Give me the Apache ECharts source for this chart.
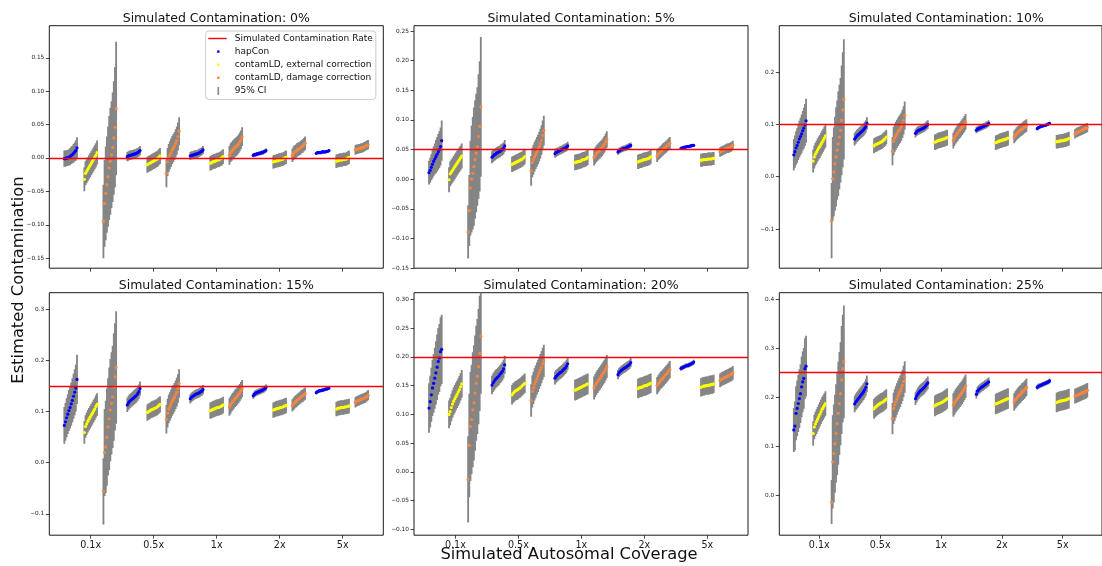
<!DOCTYPE html>
<html>
<head>
<meta charset="utf-8">
<script src="https://cdn.jsdelivr.net/npm/echarts@6/dist/echarts.min.js"></script>
<style>
html,body{margin:0;padding:0;background:#ffffff;}
#chart{width:1102px;height:566px;}
</style>
</head>
<body>
<div id="chart"></div>
<script>
// ---------------- DATA ----------------
const coverageLabels = ['0.1x', '0.5x', '1x', '2x', '5x'];
const methodNames = ['hapCon', 'contamLD, external correction', 'contamLD, damage correction'];
const contamRates = [0, 0.05, 0.10, 0.15, 0.20, 0.25];
const panelTitles = [
  'Simulated Contamination: 0%', 'Simulated Contamination: 5%', 'Simulated Contamination: 10%',
  'Simulated Contamination: 15%', 'Simulated Contamination: 20%', 'Simulated Contamination: 25%'
];
const yTicks = [
  [-0.15, -0.10, -0.05, 0, 0.05, 0.10, 0.15],
  [-0.15, -0.10, -0.05, 0, 0.05, 0.10, 0.15, 0.20, 0.25],
  [-0.1, 0, 0.1, 0.2],
  [-0.1, 0, 0.1, 0.2, 0.3],
  [-0.10, -0.05, 0, 0.05, 0.10, 0.15, 0.20, 0.25, 0.30],
  [0, 0.1, 0.2, 0.3, 0.4]
];
const yDecimals = [2, 2, 1, 1, 2, 1];
const yMin = [-0.165, -0.1503, -0.175, -0.1417, -0.110, -0.0816];
const yMax = [0.198, 0.259, 0.289, 0.3325, 0.3115, 0.4129];

// Estimates (per mille), sorted replicates; order per panel:
// [hapCon 0.1x, ext 0.1x, damage 0.1x, hapCon 0.5x, ext 0.5x, damage 0.5x, ... 5x]
// CI half-widths (per mille): a number (constant for the group) or one value per replicate.
const est0 = [
  [-1,-1,0,0,1,2,4,5,7,9,11,15],
  [-32,-23,-20,-17,-14,-11,-8,-5,-2,1,4,8],
  [-95,-68,-53,-40,-28,-15,-5,5,16,30,46,74],
  [2,3,4,4,5,5,6,6,7,8,9,11],
  [-10,-9,-8,-7,-6,-5,-4,-3,-2,-1,1,3],
  [-23,-6,0,4,8,12,15,18,22,26,32,40],
  [3,4,4,5,5,6,6,7,8,9,10,12],
  [-8,-7,-6,-5,-5,-4,-3,-3,-2,-1,0,2],
  [4,8,10,12,14,16,17,19,21,24,27,32],
  [4,5,5,6,6,7,7,8,8,9,10,11],
  [-6,-5,-5,-4,-4,-3,-3,-2,-2,-1,0,1],
  [4,7,9,10,12,13,14,15,17,18,20,22],
  [7,8,8,8,8,9,9,9,9,10,10,11],
  [-5,-4,-4,-3,-3,-3,-2,-2,-2,-1,0,1],
  [12,13,13,14,14,15,15,16,17,18,19,20]
];
const hw0 = [
  [12,12,12,12,12,13,13,13,14,14,15,16], 18,
  [55,65,70,72,75,78,80,80,82,85,90,100],
  7, 12, 21, 6, 11, 14, 3, 10, 10, 2, 10, 7
];
const est1 = [
  [11,15,20,25,30,34,38,42,46,50,55,65],
  [-1,9,12,15,18,21,24,27,30,33,36,39],
  [-89,-53,-15,0,10,21,33,44,55,72,89,122],
  [37,39,41,42,44,45,46,47,49,50,52,56],
  [25,26,27,28,29,30,31,32,33,34,36,38],
  [14,28,33,38,42,46,50,55,60,66,74,82],
  [43,45,46,47,48,49,50,51,52,53,54,56],
  [28,29,29,30,30,31,32,33,33,34,35,37],
  [37,40,43,45,47,49,51,53,56,59,63,67],
  [46,48,49,50,51,52,52,53,54,55,56,57],
  [29,30,31,31,32,33,33,34,34,35,36,38],
  [39,42,44,46,48,50,52,53,55,57,59,61],
  [52,53,53,54,54,55,55,55,56,56,57,57],
  [32,32,33,33,33,33,34,34,34,34,35,35],
  [46,47,48,49,50,51,52,52,53,54,55,57]
];
const hw1 = [
  [20,21,22,24,25,26,28,29,30,31,32,34], 21,
  [45,60,80,90,95,100,100,100,100,105,110,118],
  10, 13, 25, 7, 13, 14, 5, 12, 10, 2, 11, 8
];
const est2 = [
  [42,48,55,60,66,72,77,82,88,93,99,107],
  [30,38,43,47,51,55,58,62,66,70,74,78],
  [-84,-4,9,25,38,51,63,76,89,108,128,148],
  [72,75,78,80,82,84,86,88,90,93,96,102],
  [59,61,62,63,64,65,66,67,69,71,73,76],
  [49,68,74,78,82,86,89,92,96,101,108,117],
  [83,86,88,89,90,91,92,93,94,96,98,100],
  [66,67,68,69,70,70,71,72,72,73,74,75],
  [69,74,78,81,84,87,89,92,95,98,101,105],
  [89,91,92,93,94,95,96,97,98,99,100,102],
  [65,66,67,68,69,69,70,71,71,72,73,74],
  [76,79,82,84,86,88,90,91,93,95,96,98],
  [92,94,95,96,97,97,98,98,99,100,101,102],
  [67,67,68,68,69,69,69,70,70,71,72,73],
  [82,84,85,86,87,88,89,90,91,92,93,94]
];
const hw2 = [
  [30,31,32,33,34,35,36,37,38,39,40,42], 22,
  [72,80,85,90,95,95,100,100,100,105,110,115],
  12, 14, 27, 8, 15, 15, 6, 14, 12, 3, 13, 9
];
const est3 = [
  [73,80,88,95,102,108,115,122,130,138,146,163],
  [59,71,76,81,85,89,93,97,101,105,110,114],
  [-56,20,31,50,70,86,103,116,129,148,168,186],
  [113,117,120,122,124,126,128,130,132,135,139,145],
  [98,100,101,103,104,105,106,107,108,110,112,114],
  [85,97,105,110,115,120,124,128,133,138,145,155],
  [125,128,130,131,133,134,135,136,137,139,140,143],
  [102,103,104,105,106,107,108,108,109,110,111,113],
  [109,113,117,120,123,126,128,131,134,137,141,145],
  [131,134,136,137,138,139,140,141,142,143,145,147],
  [103,104,105,106,106,107,108,108,109,110,111,112],
  [112,115,118,120,122,124,126,128,130,131,133,135],
  [137,139,140,141,141,142,142,143,144,144,145,146],
  [105,106,107,107,108,108,108,109,109,110,110,111],
  [118,120,121,122,123,124,125,126,127,128,130,132]
];
const hw3 = [
  [36,37,38,39,40,41,42,43,44,45,46,48], 22,
  [65,85,90,95,95,100,100,100,100,105,105,110],
  14, 16, 28, 9, 16, 17, 6, 15, 12, 3, 14, 10
];
const est4 = [
  [111,122,134,146,154,163,172,182,192,198,209,213],
  [100,105,112,118,123,127,131,135,139,143,148,153],
  [-13,46,79,91,108,120,137,154,166,183,206,236],
  [151,155,158,161,163,165,167,170,172,175,179,186],
  [134,137,139,141,142,143,145,146,148,150,152,154],
  [124,140,146,152,157,162,167,172,177,182,188,193],
  [163,166,168,170,172,173,175,177,179,181,184,188],
  [142,143,144,145,146,147,148,149,150,151,152,153],
  [146,150,154,157,160,163,166,169,172,175,179,183],
  [169,173,175,177,178,180,181,182,184,185,187,190],
  [145,146,147,147,148,149,150,150,151,152,153,154],
  [150,153,156,159,161,163,165,168,170,172,175,178],
  [180,181,182,183,184,185,185,186,187,188,189,191],
  [147,148,149,149,150,150,150,151,151,152,152,153],
  [159,161,162,163,164,165,166,167,168,169,170,172]
];
const hw4 = [
  [43,45,47,49,51,53,55,57,58,59,60,60], 24,
  [75,90,95,95,100,100,100,100,100,100,100,100],
  16, 17, 28, 11, 18, 20, 8, 17, 15, 4, 16, 12
];
const est5 = [
  [133,141,167,177,187,197,207,221,231,238,258,263],
  [126,139,145,150,155,160,165,170,175,179,183,187],
  [-14,68,85,105,126,146,167,187,207,235,258,272],
  [186,190,193,196,199,202,205,208,211,215,220,227],
  [176,179,181,183,185,186,188,189,190,192,194,196],
  [156,177,184,190,196,202,207,212,218,224,232,241],
  [197,202,206,209,212,214,216,218,220,223,226,229],
  [182,184,185,186,187,188,189,190,192,193,195,197],
  [184,188,192,195,198,201,204,207,210,214,218,222],
  [206,212,215,217,219,221,222,224,226,227,229,231],
  [186,187,188,189,190,191,192,193,194,195,196,197],
  [190,194,197,200,203,205,207,210,212,214,217,220],
  [220,222,223,224,225,226,227,228,229,230,231,233],
  [189,190,191,192,192,193,193,194,194,195,196,197],
  [202,203,204,205,206,207,208,209,210,211,212,214]
];
const hw5 = [
  [45,50,55,57,58,60,60,62,62,62,62,62], 25,
  [45,95,100,100,100,105,105,105,105,110,110,115],
  17, 20, 32, 13, 21, 24, 9, 21, 18, 5, 20, 15
];

const estimates = [est0, est1, est2, est3, est4, est5];
const halfWidths = [hw0, hw1, hw2, hw3, hw4, hw5];

// ---------------- LAYOUT / STYLE ----------------
const GRID_LEFT = [49.3, 414, 779.3];
const GRID_TOP = [25.7, 292.7];
const GRID_W = 334, GRID_H = 242.5;
const X_MIN = -0.657, X_MAX = 4.645;
const METHOD_OFFSET = [-0.318, 0, 0.303];
const STEP = 0.0183;
const COLORS = ['#0000ff', '#ffff00', '#f7853f'];
const CI_COLOR = '#858585';
const FONT = 'DejaVu Sans';

function fmtY(v, d) {
  const s = Math.abs(v).toFixed(d);
  return (v < -1e-9 ? '\u2212' : '') + s;
}

function renderCI(params, api) {
  const x = api.value(0), lo = api.value(1), hi = api.value(2);
  const top = api.coord([x, hi]);
  const bot = api.coord([x, lo]);
  const w = api.size([STEP, 0])[0] + 0.7;
  return {
    type: 'rect',
    shape: { x: top[0] - w / 2, y: top[1], width: w, height: bot[1] - top[1] },
    style: { fill: api.visual('color') }
  };
}

const grids = [], xAxes = [], yAxes = [], series = [], titles = [];
for (let p = 0; p < 6; p++) {
  const row = Math.floor(p / 3), col = p % 3;
  grids.push({
    left: GRID_LEFT[col], top: GRID_TOP[row], width: GRID_W, height: GRID_H,
    show: true, borderColor: '#1a1a1a', borderWidth: 1, backgroundColor: 'transparent'
  });
  xAxes.push({
    gridIndex: p, type: 'value', min: X_MIN, max: X_MAX,
    axisLine: { show: false, onZero: false },
    splitLine: { show: false },
    axisTick: { show: true, customValues: [0, 1, 2, 3, 4], length: 3.5, inside: false,
      lineStyle: { color: '#1a1a1a', width: 0.8 } },
    axisLabel: { show: row === 1, customValues: [0, 1, 2, 3, 4],
      formatter: v => coverageLabels[Math.round(v)] || '',
      fontSize: 9.6, color: '#1a1a1a', margin: 5.5, fontFamily: FONT }
  });
  const dec = yDecimals[p];
  yAxes.push({
    gridIndex: p, type: 'value', min: yMin[p], max: yMax[p],
    axisLine: { show: false, onZero: false },
    splitLine: { show: false },
    axisTick: { show: true, customValues: yTicks[p], length: 3.5, inside: false,
      lineStyle: { color: '#1a1a1a', width: 0.8 } },
    axisLabel: { show: true, customValues: yTicks[p], formatter: v => fmtY(v, dec),
      fontSize: 5.8, color: '#222', margin: 5, fontFamily: FONT }
  });
  titles.push({
    text: panelTitles[p], left: GRID_LEFT[col] + GRID_W / 2, textAlign: 'center',
    top: row === 0 ? 12 : 279, padding: 0,
    textStyle: { fontSize: 12.5, fontWeight: 'normal', color: '#111', fontFamily: FONT }
  });

  const ciData = [];
  const ptData = [[], [], []];
  const est = estimates[p], hw = halfWidths[p];
  for (let g = 0; g < 15; g++) {
    const c = Math.floor(g / 3), m = g % 3;
    const vals = est[g];
    const n = vals.length;
    for (let i = 0; i < n; i++) {
      const h = Array.isArray(hw[g]) ? hw[g][i] : hw[g];
      const x = c + METHOD_OFFSET[m] + (i - (n - 1) / 2) * STEP;
      const y = vals[i] / 1000;
      ciData.push([x, (vals[i] - h) / 1000, (vals[i] + h) / 1000]);
      ptData[m].push([x, y]);
    }
  }
  series.push({
    name: '95% CI', type: 'custom', xAxisIndex: p, yAxisIndex: p,
    renderItem: renderCI, data: ciData, encode: { x: 0, y: [1, 2] },
    itemStyle: { color: CI_COLOR }, clip: true, z: 2, silent: true
  });
  series.push({
    name: 'Simulated Contamination Rate', type: 'line', xAxisIndex: p, yAxisIndex: p,
    data: [], color: '#ff0000', itemStyle: { color: '#ff0000', borderWidth: 0 },
    lineStyle: { color: '#ff0000' }, z: 3,
    markLine: {
      silent: true, symbol: ['none', 'none'], label: { show: false },
      lineStyle: { color: '#ff0000', width: 1.3, type: 'solid', opacity: 1 },
      emphasis: { disabled: true },
      data: [{ yAxis: contamRates[p] }], animation: false
    }
  });
  for (let m = 0; m < 3; m++) {
    series.push({
      name: methodNames[m], type: 'scatter', xAxisIndex: p, yAxisIndex: p,
      data: ptData[m], symbol: 'circle', symbolSize: 3.2,
      itemStyle: { color: COLORS[m], opacity: 1 }, z: 4, silent: true
    });
  }
}

const option = {
  animation: false,
  backgroundColor: '#ffffff',
  textStyle: { fontFamily: FONT },
  title: titles,
  grid: grids,
  xAxis: xAxes,
  yAxis: yAxes,
  legend: {
    left: 205.7, top: 31, orient: 'vertical',
    itemWidth: 22, itemHeight: 8, itemGap: 4.1,
    padding: [3, 3, 4, 2],
    backgroundColor: 'rgba(255,255,255,0.85)', borderColor: '#cccccc', borderWidth: 1, borderRadius: 3,
    selectedMode: false,
    itemStyle: { borderWidth: 0 },
    textStyle: { fontSize: 9, color: '#111', fontFamily: FONT },
    data: [
      { name: 'Simulated Contamination Rate', icon: 'path://M0,0 M22,8 M0.6,3.3 h18.4 v1.4 h-18.4 z' },
      { name: 'hapCon', icon: 'path://M0,0 M22,8 M9.4,2.8 h2.4 v2.4 h-2.4 z' },
      { name: 'contamLD, external correction', icon: 'path://M0,0 M22,8 M9.4,2.8 h2.4 v2.4 h-2.4 z' },
      { name: 'contamLD, damage correction', icon: 'path://M0,0 M22,8 M9.4,2.8 h2.4 v2.4 h-2.4 z' },
      { name: '95% CI', icon: 'path://M0,0 M22,8 M9.8,0 h1.6 v8 h-1.6 z' }
    ]
  },
  graphic: [
    { type: 'text', x: 19, y: 280, rotation: Math.PI / 2, silent: true,
      style: { text: 'Estimated Contamination', fontSize: 16.3, fontFamily: FONT, fill: '#111',
        align: 'center', verticalAlign: 'middle' } },
    { type: 'text', x: 569, y: 555, silent: true,
      style: { text: 'Simulated Autosomal Coverage', fontSize: 16.3, fontFamily: FONT, fill: '#111',
        align: 'center', verticalAlign: 'middle' } }
  ],
  series: series
};

const chart = echarts.init(document.getElementById('chart'), null, { renderer: 'canvas' });
chart.setOption(option);
</script>
</body>
</html>
